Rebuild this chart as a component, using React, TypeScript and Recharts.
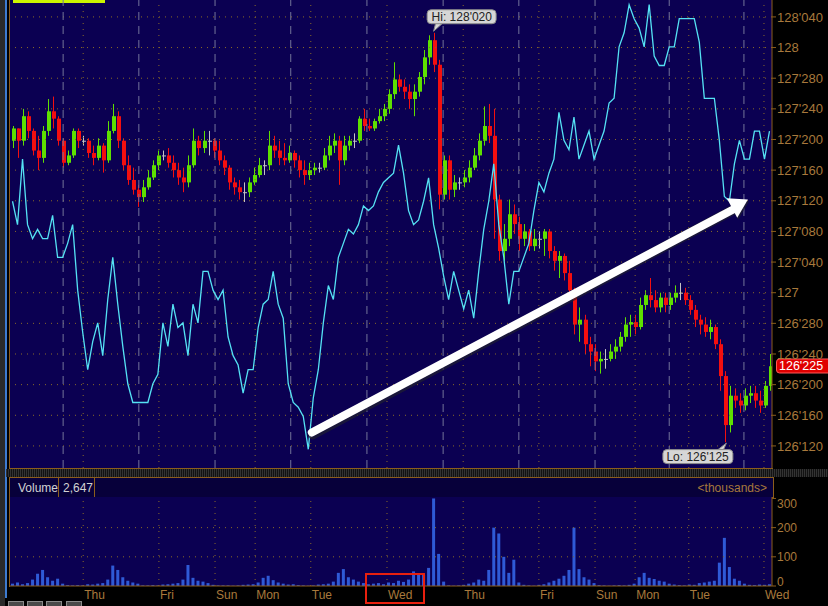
import React from 'react';
import { ComposedChart, Bar, Line, XAxis, YAxis, ReferenceLine, ReferenceDot } from 'recharts';

// OHLC per bar (price, 30-yr bond futures, decimal)
const OPENS = [
  127.62, 127.67, 127.62, 127.72, 127.66, 127.58, 127.55, 127.66, 127.74, 127.71,
  127.62, 127.53, 127.56, 127.66, 127.62, 127.62, 127.57, 127.55, 127.60, 127.54,
  127.66, 127.72, 127.62, 127.52, 127.46, 127.42, 127.39, 127.43, 127.47, 127.52,
  127.56, 127.56, 127.53, 127.50, 127.47, 127.45, 127.52, 127.62, 127.59, 127.62,
  127.62, 127.58, 127.54, 127.51, 127.45, 127.43, 127.41, 127.41, 127.45, 127.48,
  127.52, 127.52, 127.60, 127.58, 127.55, 127.54, 127.57, 127.54, 127.50, 127.48,
  127.50, 127.51, 127.51, 127.56, 127.60, 127.62, 127.54, 127.60, 127.62, 127.62,
  127.71, 127.68, 127.67, 127.70, 127.72, 127.75, 127.81, 127.87, 127.84, 127.82,
  127.79, 127.82, 127.88, 127.96, 128.03, 127.93, 127.40, 127.54, 127.42, 127.45,
  127.45, 127.47, 127.51, 127.56, 127.62, 127.68, 127.64, 127.38, 127.17, 127.22,
  127.32, 127.28, 127.22, 127.25, 127.19, 127.22, 127.22, 127.25, 127.17, 127.13,
  127.15, 127.08, 127.01, 126.87, 126.89, 126.79, 126.76, 126.72, 126.73, 126.73,
  126.76, 126.78, 126.82, 126.87, 126.88, 126.86, 126.95, 126.99, 126.97, 126.94,
  126.98, 126.95, 126.98, 127.00, 127.00, 126.97, 126.93, 126.89, 126.87, 126.84,
  126.86, 126.79, 126.66, 126.46, 126.58, 126.56, 126.54, 126.58, 126.59, 126.56,
  126.54, 126.62,
];
const CLOSES = [
  127.67, 127.62, 127.72, 127.66, 127.58, 127.55, 127.66, 127.74, 127.71, 127.62,
  127.53, 127.56, 127.66, 127.62, 127.62, 127.57, 127.55, 127.60, 127.54, 127.66,
  127.72, 127.62, 127.52, 127.46, 127.42, 127.39, 127.43, 127.47, 127.52, 127.56,
  127.56, 127.53, 127.50, 127.47, 127.45, 127.52, 127.62, 127.59, 127.62, 127.62,
  127.58, 127.54, 127.51, 127.45, 127.43, 127.41, 127.41, 127.45, 127.48, 127.52,
  127.52, 127.60, 127.58, 127.55, 127.54, 127.57, 127.54, 127.50, 127.48, 127.50,
  127.51, 127.51, 127.56, 127.60, 127.62, 127.54, 127.60, 127.62, 127.62, 127.71,
  127.68, 127.67, 127.70, 127.72, 127.75, 127.81, 127.87, 127.84, 127.82, 127.79,
  127.82, 127.88, 127.96, 128.03, 127.93, 127.40, 127.54, 127.42, 127.45, 127.45,
  127.47, 127.51, 127.56, 127.62, 127.68, 127.64, 127.38, 127.17, 127.22, 127.32,
  127.28, 127.22, 127.25, 127.19, 127.22, 127.22, 127.25, 127.17, 127.13, 127.15,
  127.08, 127.01, 126.87, 126.89, 126.79, 126.76, 126.72, 126.73, 126.73, 126.76,
  126.78, 126.82, 126.87, 126.88, 126.86, 126.95, 126.99, 126.97, 126.94, 126.98,
  126.95, 126.98, 127.00, 127.00, 126.97, 126.93, 126.89, 126.87, 126.84, 126.86,
  126.79, 126.66, 126.46, 126.58, 126.56, 126.54, 126.58, 126.59, 126.56, 126.54,
  126.62, 126.70,
];
const HIGHS = [
  127.68, 127.67, 127.75, 127.74, 127.67, 127.64, 127.68, 127.79, 127.80, 127.72,
  127.63, 127.58, 127.67, 127.67, 127.64, 127.63, 127.60, 127.63, 127.61, 127.70,
  127.77, 127.74, 127.63, 127.56, 127.51, 127.44, 127.46, 127.50, 127.54, 127.58,
  127.58, 127.59, 127.56, 127.53, 127.51, 127.56, 127.67, 127.64, 127.66, 127.66,
  127.63, 127.62, 127.56, 127.52, 127.47, 127.46, 127.45, 127.47, 127.51, 127.55,
  127.54, 127.66, 127.64, 127.62, 127.61, 127.60, 127.58, 127.56, 127.54, 127.53,
  127.53, 127.53, 127.59, 127.64, 127.65, 127.64, 127.64, 127.64, 127.65, 127.72,
  127.75, 127.71, 127.71, 127.75, 127.77, 127.83, 127.94, 127.89, 127.87, 127.85,
  127.85, 127.90, 127.99, 128.05, 128.06, 127.95, 127.56, 127.56, 127.48, 127.47,
  127.50, 127.54, 127.59, 127.65, 127.76, 127.77, 127.75, 127.40, 127.28, 127.38,
  127.36, 127.31, 127.28, 127.26, 127.26, 127.25, 127.26, 127.26, 127.19, 127.17,
  127.16, 127.13, 127.02, 126.94, 126.91, 126.82, 126.79, 126.76, 126.77, 126.79,
  126.81, 126.84, 126.90, 126.91, 126.91, 126.98, 127.01, 127.06, 127.01, 127.00,
  127.00, 127.00, 127.03, 127.04, 127.02, 126.99, 126.95, 126.91, 126.90, 126.89,
  126.87, 126.81, 126.68, 126.62, 126.61, 126.59, 126.61, 126.62, 126.62, 126.60,
  126.64, 126.75,
];
const LOWS = [
  127.59, 127.55, 127.60, 127.63, 127.56, 127.50, 127.53, 127.64, 127.67, 127.60,
  127.51, 127.52, 127.55, 127.59, 127.60, 127.55, 127.52, 127.54, 127.49, 127.53,
  127.65, 127.59, 127.50, 127.44, 127.40, 127.35, 127.37, 127.42, 127.46, 127.50,
  127.54, 127.51, 127.47, 127.44, 127.41, 127.43, 127.51, 127.56, 127.57, 127.56,
  127.55, 127.52, 127.48, 127.42, 127.40, 127.38, 127.37, 127.39, 127.44, 127.47,
  127.48, 127.50, 127.55, 127.52, 127.52, 127.53, 127.51, 127.47, 127.44, 127.46,
  127.48, 127.49, 127.50, 127.54, 127.57, 127.44, 127.52, 127.58, 127.59, 127.61,
  127.66, 127.66, 127.66, 127.69, 127.70, 127.73, 127.79, 127.82, 127.79, 127.75,
  127.72, 127.80, 127.85, 127.93, 127.90, 127.34, 127.38, 127.38, 127.39, 127.42,
  127.43, 127.45, 127.50, 127.54, 127.60, 127.61, 127.22, 127.13, 127.13, 127.19,
  127.24, 127.17, 127.19, 127.17, 127.17, 127.18, 127.15, 127.14, 127.09, 127.06,
  127.05, 126.99, 126.83, 126.80, 126.75, 126.70, 126.68, 126.67, 126.69, 126.72,
  126.73, 126.76, 126.80, 126.82, 126.83, 126.85, 126.93, 126.94, 126.92, 126.92,
  126.92, 126.93, 126.96, 126.97, 126.95, 126.91, 126.86, 126.83, 126.82, 126.81,
  126.77, 126.60, 126.39, 126.43, 126.53, 126.51, 126.52, 126.55, 126.53, 126.51,
  126.53, 126.60,
];

// cyan overlay indicator, on its own 0-100 scale
const INDICATOR = [
  57, 52, 66, 52, 49, 51, 49, 49, 54, 45,
  45, 48, 52, 38, 29, 21, 27, 31, 24, 36,
  45, 35, 26, 18, 14, 14, 14, 14, 18, 20,
  31, 26, 35, 30, 31, 24, 35, 31, 42, 42,
  38, 36, 38, 28, 24, 22, 16, 21, 21, 30,
  35, 36, 42, 35, 32, 18, 14, 13, 11, 4,
  15, 21, 31, 39, 36, 45, 48, 51, 50, 52,
  56, 55, 56, 59, 61, 62, 63, 69, 63, 55,
  52, 53, 57, 62, 52, 47, 41, 36, 42, 38,
  34, 38, 32, 42, 51, 57, 65, 52, 45, 35,
  42, 42, 45, 48, 55, 61, 59, 63, 66, 76,
  70, 68, 75, 66, 69, 72, 66, 69, 72, 78,
  79, 90, 93, 99, 96, 94, 90, 99, 88, 86,
  86, 90, 90, 96, 96, 96, 96, 91, 79, 79,
  79, 70, 58, 57, 65, 70, 66, 66, 72, 72,
  66, 72,
];

// volume, thousands
const VOLUME = [
  8, 12, 6, 10, 22, 42, 55, 30, 18, 25,
  8, 3, 2, 3, 2, 6, 5, 8, 10, 22,
  70, 55, 30, 18, 12, 8, 2, 2, 3, 2,
  5, 6, 8, 10, 22, 72, 28, 18, 15, 10,
  4, 2, 2, 2, 1, 2, 4, 5, 6, 12,
  28, 35, 20, 12, 8, 5, 6, 3, 2, 1,
  2, 5, 6, 8, 15, 45, 58, 30, 22, 15,
  10, 6, 8, 10, 6, 12, 10, 18, 14, 22,
  50, 40, 38, 62, 300, 110, 15, 2, 1, 2,
  4, 8, 12, 22, 18, 55, 200, 180, 100, 45,
  90, 12, 4, 2, 1, 4, 6, 12, 18, 25,
  35, 55, 200, 58, 30, 22, 10, 3, 2, 1,
  2, 3, 2, 4, 8, 30, 45, 28, 24, 18,
  15, 8, 5, 3, 2, 5, 4, 10, 12, 15,
  18, 80, 165, 65, 25, 18, 8, 4, 3, 5,
  4, 6,
];

const PRICE_TICKS = [
  126.375, 126.5, 126.625, 126.75, 126.875, 127, 127.125, 127.25,
  127.375, 127.5, 127.625, 127.75, 127.875, 128, 128.125,
];
const VOL_TICKS = [0, 100, 200, 300];

// time axis in bar units
const DAY_LABELS = ['Thu', 'Fri', 'Sun', 'Mon', 'Tue', 'Wed', 'Thu', 'Fri', 'Sun', 'Mon', 'Tue', 'Wed'];
const DAY_STARTS = [14.6, 29.7, 40.9, 48.9, 60.0, 75.2, 90.4, 105.5, 116.7, 124.7, 135.4, 150.4];
const SESSION_BREAKS = [10.6, 25.7, 40.9, 56.0, 71.2, 86.4, 101.5, 116.7, 131.5, 146.4];

const HI_PRICE = 128.0625;
const LO_PRICE = 126.390625;
const LAST_PRICE = 126.703125;
const HI_BAR = 84;
const LO_BAR = 142;
const ARROW_FROM = { x: 60.2, y: 126.43 };
const ARROW_TO = { x: 147.2, y: 127.38 };

const FONT = '"Liberation Sans", Arial, sans-serif';
const NAVY = '#0b0052';
const BROWN = '#8c5e1c';
const BROWN_TEXT = '#a8793c';
const DOT = '#8a6a28';
const DASH = '#74749a';

const fmt32 = (v: number) => {
  const whole = Math.floor(v + 1e-9);
  const frac = Math.round((v - whole) * 320);
  return frac === 0 ? `${whole}` : `${whole}'${String(frac).padStart(3, '0')}`;
};

const data = OPENS.map((o, i) => ({
  t: i + 0.5,
  o,
  h: HIGHS[i],
  l: LOWS[i],
  c: CLOSES[i],
  range: [LOWS[i], HIGHS[i]],
  ind: INDICATOR[i],
  vol: VOLUME[i],
}));

const renderCandle = (props: any) => {
  const { x, y, width, height, payload } = props;
  if (!payload) return null;
  const { o, h, l, c } = payload;
  const top = Math.min(y, y + height);
  const bot = Math.max(y, y + height);
  const span = h - l || 1;
  const py = (v: number) => top + ((h - v) / span) * (bot - top);
  const cx = Math.round(x + width / 2);
  const color = c > o ? '#5ee000' : c < o ? '#f40f0f' : '#c4c4c4';
  const yo = py(o);
  const yc = py(c);
  const bt = Math.min(yo, yc);
  const bh = Math.max(1, Math.abs(yo - yc));
  return (
    <g>
      <line x1={cx + 0.5} x2={cx + 0.5} y1={top} y2={bot} stroke={color} strokeWidth={1} />
      <rect x={cx - 1} y={bt} width={4} height={bh} fill={color} />
    </g>
  );
};

const renderArrow = (p: any) => {
  const { x1, y1, x2, y2 } = p;
  const ang = Math.atan2(y2 - y1, x2 - x1);
  const headLen = 18;
  const headW = 11;
  const bx = x2 - headLen * Math.cos(ang);
  const by = y2 - headLen * Math.sin(ang);
  const nx = -Math.sin(ang);
  const ny = Math.cos(ang);
  const head = (dx: number, dy: number) =>
    `${x2 + dx},${y2 + dy} ${bx + nx * headW + dx},${by + ny * headW + dy} ${bx - nx * headW + dx},${by - ny * headW + dy}`;
  return (
    <g>
      <line x1={x1 + 1} y1={y1 + 2} x2={bx + 1} y2={by + 2} stroke="#202030" strokeWidth={10} strokeLinecap="round" opacity={0.7} />
      <polygon points={head(1, 2)} fill="#202030" opacity={0.7} />
      <line x1={x1} y1={y1} x2={bx + 2} y2={by + 1} stroke="#ffffff" strokeWidth={8} strokeLinecap="round" />
      <polygon points={head(0, 0)} fill="#ffffff" />
    </g>
  );
};

const renderHi = (p: any) => {
  const { cx, cy } = p;
  return (
    <g>
      <polygon points={`${cx + 2},${cy - 9} ${cx + 9},${cy - 9} ${cx},${cy - 1}`} fill="#d6d6d6" stroke="#8a8a8a" />
      <rect x={cx - 6.5} y={cy - 22.5} width={69} height={14} rx={4} fill="#d6d6d6" stroke="#8a8a8a" />
      <text x={cx - 2} y={cy - 11} fontSize={12} fill="#222" fontFamily={FONT}>{`Hi: ${fmt32(HI_PRICE)}`}</text>
    </g>
  );
};

const renderLo = (p: any) => {
  const { cx, cy } = p;
  return (
    <g>
      <polygon points={`${cx - 7},${cy + 8} ${cx - 1},${cy + 8} ${cx + 2},${cy + 1}`} fill="#d6d6d6" stroke="#8a8a8a" />
      <rect x={cx - 61.5} y={cy + 7.5} width={70} height={14} rx={4} fill="#d6d6d6" stroke="#8a8a8a" />
      <text x={cx - 58} y={cy + 19} fontSize={12} fill="#222" fontFamily={FONT}>{`Lo: ${fmt32(LO_PRICE)}`}</text>
    </g>
  );
};

const renderLast = (p: any) => {
  const { cx, cy } = p;
  return (
    <g>
      <rect x={cx + 4.5} y={cy - 6.5} width={56} height={14} rx={3} fill="#e00000" stroke="#ff5a5a" />
      <text x={cx + 7} y={cy + 5} fontSize={12.5} fill="#ffffff" fontFamily={FONT}>{fmt32(LAST_PRICE)}</text>
    </g>
  );
};

const renderDayTick = (props: any) => {
  const { x, y, payload } = props;
  const idx = DAY_STARTS.indexOf(payload.value);
  return (
    <text x={x + 1} y={y + 13} fill={BROWN_TEXT} fontSize={12} fontFamily={FONT}>
      {DAY_LABELS[idx]}
    </text>
  );
};

// the edge labels sit at the panel borders, nudge them inside
const renderVolTick = (props: any) => {
  const { x, y, payload } = props;
  const shift = payload.value === 0 ? -4 : payload.value === 300 ? 5 : 0;
  return (
    <text x={x} y={y + shift} dy="0.355em" fill={BROWN_TEXT} fontSize={12} fontFamily={FONT}>
      {payload.value}
    </text>
  );
};

const abs = (left: number, top: number, width: number, height: number, extra: React.CSSProperties = {}): React.CSSProperties => ({
  position: 'absolute', left, top, width, height, ...extra,
});

export default function App() {
  const mainDots = DAY_STARTS.filter(d => !SESSION_BREAKS.includes(d));
  return (
    <div style={{ position: 'relative', width: 828, height: 606, background: '#000', overflow: 'hidden', fontFamily: FONT }}>
      <style>{'html,body{margin:0;padding:0;background:#000}'}</style>

      {/* left strip */}
      <div style={abs(0, 0, 5, 606, { background: '#2a2a2a' })} />
      <div style={abs(5, 0, 1.5, 598, { background: '#3d7bd0' })} />

      {/* plot backgrounds */}
      <div style={abs(10, 0, 762, 468, { background: NAVY })} />
      <div style={abs(9, 0, 1, 469, { background: BROWN })} />
      <div style={abs(9, 468, 764, 1, { background: BROWN })} />
      <div style={abs(13, 0, 92, 3, { background: '#ccf500' })} />

      {/* panel separator */}
      <div style={abs(6, 469, 822, 8, { background: 'repeating-linear-gradient(90deg,#333 0 1px,#121212 1px 2px)' })} />

      {/* volume header */}
      <div style={abs(9, 477, 763, 19, { background: '#07003a', border: `1px solid ${BROWN}`, color: '#d2d2d2', fontSize: 12 })}>
        <span style={{ position: 'absolute', left: 8, top: 3 }}>Volume</span>
        <div style={abs(48, 0, 1, 19, { background: BROWN })} />
        <span style={{ position: 'absolute', left: 53, top: 3 }}>2,647</span>
        <div style={abs(84, 0, 1, 19, { background: BROWN })} />
        <span style={{ position: 'absolute', right: 6, top: 3, color: BROWN_TEXT }}>&lt;thousands&gt;</span>
      </div>
      <div style={abs(10, 497, 762, 89, { background: NAVY })} />
      <div style={abs(9, 497, 1, 90, { background: BROWN })} />

      {/* price panel */}
      <div style={abs(0, 0, 828, 468)}>
        <ComposedChart width={828} height={468} data={data} margin={{ top: 0, right: 0, bottom: 0, left: 10 }}>
          <XAxis dataKey="t" type="number" domain={[0, 152]} hide allowDataOverflow />
          <YAxis
            orientation="right"
            width={56}
            domain={[126.285, 128.194]}
            allowDataOverflow
            ticks={PRICE_TICKS}
            interval={0}
            tickFormatter={fmt32}
            tick={{ fill: BROWN_TEXT, fontSize: 13, fontFamily: FONT }}
            tickLine={{ stroke: BROWN }}
            tickSize={4}
            tickMargin={1}
            axisLine={{ stroke: BROWN }}
          />
          <YAxis yAxisId="ind" hide domain={[0, 100]} />
          {PRICE_TICKS.map(v => (
            <ReferenceLine key={`h${v}`} y={v} stroke={DOT} strokeDasharray="1 5" />
          ))}
          {SESSION_BREAKS.map(v => (
            <ReferenceLine key={`s${v}`} x={v} stroke={DASH} strokeDasharray="8 6" />
          ))}
          {mainDots.map(v => (
            <ReferenceLine key={`d${v}`} x={v} stroke={DOT} strokeDasharray="1 5" />
          ))}
          <Bar dataKey="range" shape={renderCandle} isAnimationActive={false} barSize={4} />
          <Line yAxisId="ind" dataKey="ind" type="linear" stroke="#55e2f4" strokeWidth={1.3} dot={false} isAnimationActive={false} />
          <ReferenceLine segment={[ARROW_FROM, ARROW_TO]} shape={renderArrow} ifOverflow="visible" />
          <ReferenceDot x={data[HI_BAR].t} y={HI_PRICE} shape={renderHi} ifOverflow="visible" />
          <ReferenceDot x={data[LO_BAR].t} y={LO_PRICE} shape={renderLo} ifOverflow="visible" />
          <ReferenceDot x={152} y={LAST_PRICE} shape={renderLast} ifOverflow="visible" />
        </ComposedChart>
      </div>

      {/* volume panel */}
      <div style={abs(0, 497, 828, 109)}>
        <ComposedChart width={828} height={109} data={data} margin={{ top: 0, right: 0, bottom: 0, left: 10 }}>
          <XAxis
            dataKey="t"
            type="number"
            domain={[0, 152]}
            allowDataOverflow
            ticks={DAY_STARTS}
            interval={0}
            height={20}
            tick={renderDayTick}
            tickLine={false}
            tickSize={0}
            tickMargin={0}
            axisLine={{ stroke: BROWN }}
          />
          <YAxis
            orientation="right"
            width={56}
            domain={[0, 305]}
            allowDataOverflow
            ticks={VOL_TICKS}
            interval={0}
            tick={renderVolTick}
            tickLine={{ stroke: BROWN }}
            tickSize={4}
            tickMargin={1}
            axisLine={{ stroke: BROWN }}
          />
          {VOL_TICKS.filter(v => v > 0 && v < 300).map(v => (
            <ReferenceLine key={`vh${v}`} y={v} stroke={DOT} strokeDasharray="1 5" />
          ))}
          {DAY_STARTS.map(v => (
            <ReferenceLine key={`vd${v}`} x={v} stroke={DOT} strokeDasharray="1 5" />
          ))}
          <Bar dataKey="vol" fill="#2f5ad6" barSize={3} isAnimationActive={false} />
        </ComposedChart>
      </div>

      {/* highlighted day label */}
      <div style={abs(365, 573, 60, 31, { border: '2px solid #e8200e', boxSizing: 'border-box' })} />

      {/* toolbar stubs */}
      {[8, 27, 46, 66].map(l => (
        <div key={l} style={abs(l, 601, 16, 6, { background: '#4a4a4a', border: '1px solid #8a8a8a', boxSizing: 'border-box' })} />
      ))}
    </div>
  );
}
